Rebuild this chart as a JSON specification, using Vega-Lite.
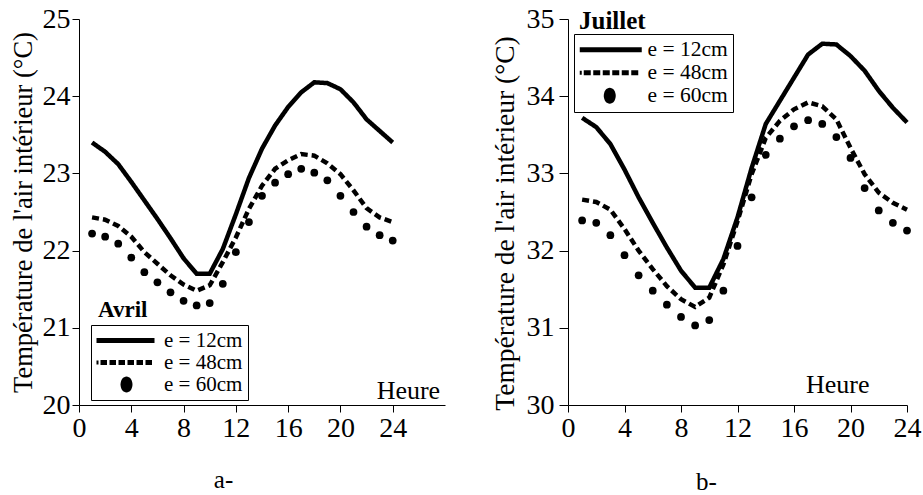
{
  "$schema": "https://vega.github.io/schema/vega-lite/v6.json",
  "padding": {"left": 10, "top": 5, "right": 0, "bottom": 0},
  "background": "white",
  "spacing": 45,
  "config": {"view": {"stroke": null}},
  "resolve": {"scale": {"shape": "independent", "strokeDash": "independent"}, "legend": {"shape": "independent"}},
  "datasets": {
    "avril": [
      {"h":1,"s":"e = 12cm","t":23.40},{"h":2,"s":"e = 12cm","t":23.28},{"h":3,"s":"e = 12cm","t":23.12},{"h":4,"s":"e = 12cm","t":22.89},{"h":5,"s":"e = 12cm","t":22.65},{"h":6,"s":"e = 12cm","t":22.41},{"h":7,"s":"e = 12cm","t":22.16},{"h":8,"s":"e = 12cm","t":21.90},{"h":9,"s":"e = 12cm","t":21.70},{"h":10,"s":"e = 12cm","t":21.70},{"h":11,"s":"e = 12cm","t":22.02},{"h":12,"s":"e = 12cm","t":22.47},{"h":13,"s":"e = 12cm","t":22.94},{"h":14,"s":"e = 12cm","t":23.32},{"h":15,"s":"e = 12cm","t":23.62},{"h":16,"s":"e = 12cm","t":23.86},{"h":17,"s":"e = 12cm","t":24.05},{"h":18,"s":"e = 12cm","t":24.18},{"h":19,"s":"e = 12cm","t":24.17},{"h":20,"s":"e = 12cm","t":24.09},{"h":21,"s":"e = 12cm","t":23.92},{"h":22,"s":"e = 12cm","t":23.70},{"h":23,"s":"e = 12cm","t":23.55},{"h":24,"s":"e = 12cm","t":23.40},
      {"h":1,"s":"e = 48cm","t":22.43},{"h":2,"s":"e = 48cm","t":22.40},{"h":3,"s":"e = 48cm","t":22.32},{"h":4,"s":"e = 48cm","t":22.18},{"h":5,"s":"e = 48cm","t":21.98},{"h":6,"s":"e = 48cm","t":21.83},{"h":7,"s":"e = 48cm","t":21.68},{"h":8,"s":"e = 48cm","t":21.56},{"h":9,"s":"e = 48cm","t":21.48},{"h":10,"s":"e = 48cm","t":21.55},{"h":11,"s":"e = 48cm","t":21.85},{"h":12,"s":"e = 48cm","t":22.17},{"h":13,"s":"e = 48cm","t":22.54},{"h":14,"s":"e = 48cm","t":22.84},{"h":15,"s":"e = 48cm","t":23.06},{"h":16,"s":"e = 48cm","t":23.17},{"h":17,"s":"e = 48cm","t":23.25},{"h":18,"s":"e = 48cm","t":23.23},{"h":19,"s":"e = 48cm","t":23.13},{"h":20,"s":"e = 48cm","t":22.99},{"h":21,"s":"e = 48cm","t":22.78},{"h":22,"s":"e = 48cm","t":22.55},{"h":23,"s":"e = 48cm","t":22.43},{"h":24,"s":"e = 48cm","t":22.37},
      {"h":1,"s":"e = 60cm","t":22.22},{"h":2,"s":"e = 60cm","t":22.18},{"h":3,"s":"e = 60cm","t":22.09},{"h":4,"s":"e = 60cm","t":21.91},{"h":5,"s":"e = 60cm","t":21.72},{"h":6,"s":"e = 60cm","t":21.59},{"h":7,"s":"e = 60cm","t":21.46},{"h":8,"s":"e = 60cm","t":21.35},{"h":9,"s":"e = 60cm","t":21.29},{"h":10,"s":"e = 60cm","t":21.32},{"h":11,"s":"e = 60cm","t":21.57},{"h":12,"s":"e = 60cm","t":21.98},{"h":13,"s":"e = 60cm","t":22.37},{"h":14,"s":"e = 60cm","t":22.71},{"h":15,"s":"e = 60cm","t":22.88},{"h":16,"s":"e = 60cm","t":22.99},{"h":17,"s":"e = 60cm","t":23.06},{"h":18,"s":"e = 60cm","t":23.01},{"h":19,"s":"e = 60cm","t":22.91},{"h":20,"s":"e = 60cm","t":22.71},{"h":21,"s":"e = 60cm","t":22.50},{"h":22,"s":"e = 60cm","t":22.31},{"h":23,"s":"e = 60cm","t":22.20},{"h":24,"s":"e = 60cm","t":22.13}
    ],
    "juillet": [
      {"h":1,"s":"e = 12cm","t":33.72},{"h":2,"s":"e = 12cm","t":33.60},{"h":3,"s":"e = 12cm","t":33.38},{"h":4,"s":"e = 12cm","t":33.05},{"h":5,"s":"e = 12cm","t":32.69},{"h":6,"s":"e = 12cm","t":32.36},{"h":7,"s":"e = 12cm","t":32.04},{"h":8,"s":"e = 12cm","t":31.74},{"h":9,"s":"e = 12cm","t":31.52},{"h":10,"s":"e = 12cm","t":31.52},{"h":11,"s":"e = 12cm","t":31.89},{"h":12,"s":"e = 12cm","t":32.43},{"h":13,"s":"e = 12cm","t":33.07},{"h":14,"s":"e = 12cm","t":33.64},{"h":15,"s":"e = 12cm","t":33.94},{"h":16,"s":"e = 12cm","t":34.24},{"h":17,"s":"e = 12cm","t":34.54},{"h":18,"s":"e = 12cm","t":34.68},{"h":19,"s":"e = 12cm","t":34.67},{"h":20,"s":"e = 12cm","t":34.52},{"h":21,"s":"e = 12cm","t":34.33},{"h":22,"s":"e = 12cm","t":34.07},{"h":23,"s":"e = 12cm","t":33.85},{"h":24,"s":"e = 12cm","t":33.66},
      {"h":1,"s":"e = 48cm","t":32.66},{"h":2,"s":"e = 48cm","t":32.63},{"h":3,"s":"e = 48cm","t":32.53},{"h":4,"s":"e = 48cm","t":32.28},{"h":5,"s":"e = 48cm","t":32.00},{"h":6,"s":"e = 48cm","t":31.76},{"h":7,"s":"e = 48cm","t":31.54},{"h":8,"s":"e = 48cm","t":31.37},{"h":9,"s":"e = 48cm","t":31.27},{"h":10,"s":"e = 48cm","t":31.39},{"h":11,"s":"e = 48cm","t":31.82},{"h":12,"s":"e = 48cm","t":32.38},{"h":13,"s":"e = 48cm","t":32.99},{"h":14,"s":"e = 48cm","t":33.46},{"h":15,"s":"e = 48cm","t":33.68},{"h":16,"s":"e = 48cm","t":33.83},{"h":17,"s":"e = 48cm","t":33.92},{"h":18,"s":"e = 48cm","t":33.87},{"h":19,"s":"e = 48cm","t":33.70},{"h":20,"s":"e = 48cm","t":33.33},{"h":21,"s":"e = 48cm","t":32.99},{"h":22,"s":"e = 48cm","t":32.75},{"h":23,"s":"e = 48cm","t":32.62},{"h":24,"s":"e = 48cm","t":32.53},
      {"h":1,"s":"e = 60cm","t":32.39},{"h":2,"s":"e = 60cm","t":32.36},{"h":3,"s":"e = 60cm","t":32.20},{"h":4,"s":"e = 60cm","t":31.94},{"h":5,"s":"e = 60cm","t":31.68},{"h":6,"s":"e = 60cm","t":31.48},{"h":7,"s":"e = 60cm","t":31.30},{"h":8,"s":"e = 60cm","t":31.14},{"h":9,"s":"e = 60cm","t":31.03},{"h":10,"s":"e = 60cm","t":31.10},{"h":11,"s":"e = 60cm","t":31.48},{"h":12,"s":"e = 60cm","t":32.06},{"h":13,"s":"e = 60cm","t":32.69},{"h":14,"s":"e = 60cm","t":33.24},{"h":15,"s":"e = 60cm","t":33.45},{"h":16,"s":"e = 60cm","t":33.61},{"h":17,"s":"e = 60cm","t":33.69},{"h":18,"s":"e = 60cm","t":33.64},{"h":19,"s":"e = 60cm","t":33.47},{"h":20,"s":"e = 60cm","t":33.20},{"h":21,"s":"e = 60cm","t":32.81},{"h":22,"s":"e = 60cm","t":32.52},{"h":23,"s":"e = 60cm","t":32.36},{"h":24,"s":"e = 60cm","t":32.26}
    ]
  },
  "hconcat": [
    {
      "width": 366,
      "height": 386,
      "data": {"name": "avril"},
      "layer": [
        {
          "transform": [{"filter": "datum.s !== 'e = 60cm'"}],
          "mark": {"type": "line", "color": "black", "strokeWidth": 4.5, "strokeCap": "butt"},
          "encoding": {
            "x": {"field": "h", "type": "quantitative", "scale": {"domain": [0, 28], "nice": false, "zero": false},
              "axis": {"values": [0, 4, 8, 12, 16, 20, 24], "format": "d", "grid": false, "title": "a-", "titleFont": "Liberation Serif", "titleFontSize": 25, "titleFontWeight": "normal", "titleColor": "black", "titleX": 144, "titleY": 82, "titleBaseline": "alphabetic", "titleAlign": "center", "labelFont": "Liberation Sans Narrow", "labelFontSize": 28, "labelColor": "black", "labelPadding": 2, "labelFlush": false, "labelOverlap": false, "tickSize": 7, "tickColor": "black", "domainColor": "black"}},
            "y": {"field": "t", "type": "quantitative", "scale": {"domain": [20, 25], "nice": false, "zero": false},
              "axis": {"values": [20, 21, 22, 23, 24, 25], "format": "d", "grid": false, "title": "Température de l'air intérieur (°C)", "titleFont": "Liberation Serif", "titleFontSize": 26.5, "titleFontWeight": "normal", "titleColor": "black", "titleX": -48, "titleY": 193, "titleBaseline": "alphabetic", "titleAlign": "center", "labelFont": "Liberation Sans Narrow", "labelFontSize": 28, "labelColor": "black", "labelPadding": 2, "labelFlush": false, "labelOverlap": false, "tickSize": 7, "tickColor": "black", "domainColor": "black"}},
            "strokeDash": {"field": "s", "type": "nominal", "scale": {"domain": ["e = 12cm", "e = 48cm"], "range": [[1, 0], [7, 4]]}, "legend": null}
          }
        },
        {
          "transform": [{"filter": "datum.s === 'e = 60cm'"}],
          "mark": {"type": "point", "shape": "circle", "filled": true, "color": "black", "size": 60, "opacity": 1},
          "encoding": {"x": {"field": "h", "type": "quantitative"}, "y": {"field": "t", "type": "quantitative"}}
        },
        {
          "mark": {"type": "point", "filled": true, "color": "black", "opacity": 0},
          "encoding": {
            "x": {"field": "h", "type": "quantitative"}, "y": {"field": "t", "type": "quantitative"},
            "shape": {"field": "s", "type": "nominal",
              "scale": {"domain": ["e = 12cm", "e = 48cm", "e = 60cm"], "range": ["M-1,-0.25H4.8V0.25H-1Z", "M-1,-0.2H-0.8V0.2H-1Z M-0.6,-0.25H0.05V0.25H-0.6Z M0.3,-0.25H0.95V0.25H0.3Z M1.2,-0.25H1.85V0.25H1.2Z M2.1,-0.25H2.75V0.25H2.1Z M3,-0.25H3.65V0.25H3Z M3.9,-0.25H4.55V0.25H3.9Z", "M1.4,0A0.6,0.8,0,1,0,2.6,0A0.6,0.8,0,1,0,1.4,0Z"]},
              "legend": {"title": null, "orient": "none", "legendX": 12, "legendY": 306, "symbolSize": 400, "symbolFillColor": "black", "symbolStrokeWidth": 0, "symbolOpacity": 1, "labelFont": "Liberation Serif", "labelFontSize": 21, "labelColor": "black", "labelOffset": 47, "padding": 5, "rowPadding": 0, "strokeColor": "black", "fillColor": "white",
                "encode": {"legend": {"update": {"strokeWidth": {"value": 2}}}}}
            }
          }
        },
        {
          "data": {"values": [{"lab": "Avril"}]},
          "mark": {"type": "text", "font": "Liberation Serif", "fontSize": 23, "fontWeight": "bold", "align": "left", "baseline": "alphabetic", "color": "black"},
          "encoding": {"x": {"datum": 1.46, "type": "quantitative"}, "y": {"datum": 21.14, "type": "quantitative"}, "text": {"field": "lab"}}
        },
        {
          "data": {"values": [{"lab": "Heure"}]},
          "mark": {"type": "text", "font": "Liberation Serif", "fontSize": 26, "align": "center", "baseline": "alphabetic", "color": "black"},
          "encoding": {"x": {"datum": 25.2, "type": "quantitative"}, "y": {"datum": 20.08, "type": "quantitative"}, "text": {"field": "lab"}}
        }
      ]
    },
    {
      "width": 339,
      "height": 386,
      "data": {"name": "juillet"},
      "layer": [
        {
          "transform": [{"filter": "datum.s !== 'e = 60cm'"}],
          "mark": {"type": "line", "color": "black", "strokeWidth": 4.5, "strokeCap": "butt"},
          "encoding": {
            "x": {"field": "h", "type": "quantitative", "scale": {"domain": [0, 24], "nice": false, "zero": false},
              "axis": {"values": [0, 4, 8, 12, 16, 20, 24], "format": "d", "grid": false, "title": "b-", "titleFont": "Liberation Serif", "titleFontSize": 25, "titleFontWeight": "normal", "titleColor": "black", "titleX": 138, "titleY": 84, "titleBaseline": "alphabetic", "titleAlign": "center", "labelFont": "Liberation Sans Narrow", "labelFontSize": 28, "labelColor": "black", "labelPadding": 2, "labelFlush": false, "labelOverlap": false, "tickSize": 7, "tickColor": "black", "domainColor": "black"}},
            "y": {"field": "t", "type": "quantitative", "scale": {"domain": [30, 35], "nice": false, "zero": false},
              "axis": {"values": [30, 31, 32, 33, 34, 35], "format": "d", "grid": false, "title": "Température de l'air intérieur (°C)", "titleFont": "Liberation Serif", "titleFontSize": 27.5, "titleFontWeight": "normal", "titleColor": "black", "titleX": -55, "titleY": 204, "titleBaseline": "alphabetic", "titleAlign": "center", "labelFont": "Liberation Sans Narrow", "labelFontSize": 28, "labelColor": "black", "labelPadding": 5, "labelFlush": false, "labelOverlap": false, "tickSize": 9, "tickColor": "black", "domainColor": "black"}},
            "strokeDash": {"field": "s", "type": "nominal", "scale": {"domain": ["e = 12cm", "e = 48cm"], "range": [[1, 0], [7, 4]]}, "legend": null}
          }
        },
        {
          "transform": [{"filter": "datum.s === 'e = 60cm'"}],
          "mark": {"type": "point", "shape": "circle", "filled": true, "color": "black", "size": 60, "opacity": 1},
          "encoding": {"x": {"field": "h", "type": "quantitative"}, "y": {"field": "t", "type": "quantitative"}}
        },
        {
          "mark": {"type": "point", "filled": true, "color": "black", "opacity": 0},
          "encoding": {
            "x": {"field": "h", "type": "quantitative"}, "y": {"field": "t", "type": "quantitative"},
            "shape": {"field": "s", "type": "nominal",
              "scale": {"domain": ["e = 12cm", "e = 48cm", "e = 60cm"], "range": ["M-1,-0.25H5.2V0.25H-1Z", "M-1,-0.2H-0.8V0.2H-1Z M-0.6,-0.25H0.1V0.25H-0.6Z M0.35,-0.25H1.05V0.25H0.35Z M1.3,-0.25H2V0.25H1.3Z M2.25,-0.25H2.95V0.25H2.25Z M3.2,-0.25H3.9V0.25H3.2Z M4.15,-0.25H4.85V0.25H4.15Z", "M1.4,0A0.6,0.8,0,1,0,2.6,0A0.6,0.8,0,1,0,1.4,0Z"]},
              "legend": {"title": null, "orient": "none", "legendX": 6, "legendY": 15, "symbolSize": 400, "symbolFillColor": "black", "symbolStrokeWidth": 0, "symbolOpacity": 1, "labelFont": "Liberation Serif", "labelFontSize": 21.5, "labelColor": "black", "labelOffset": 47, "padding": 5, "rowPadding": 0, "strokeColor": "black", "fillColor": "white",
                "encode": {"legend": {"update": {"strokeWidth": {"value": 2}}}}}
            }
          }
        },
        {
          "data": {"values": [{"lab": "Juillet"}]},
          "mark": {"type": "text", "font": "Liberation Serif", "fontSize": 25, "fontWeight": "bold", "align": "left", "baseline": "alphabetic", "color": "black"},
          "encoding": {"x": {"datum": 0.78, "type": "quantitative"}, "y": {"datum": 34.87, "type": "quantitative"}, "text": {"field": "lab"}}
        },
        {
          "data": {"values": [{"lab": "Heure"}]},
          "mark": {"type": "text", "font": "Liberation Serif", "fontSize": 26, "align": "center", "baseline": "alphabetic", "color": "black"},
          "encoding": {"x": {"datum": 19.1, "type": "quantitative"}, "y": {"datum": 30.16, "type": "quantitative"}, "text": {"field": "lab"}}
        }
      ]
    }
  ]
}
